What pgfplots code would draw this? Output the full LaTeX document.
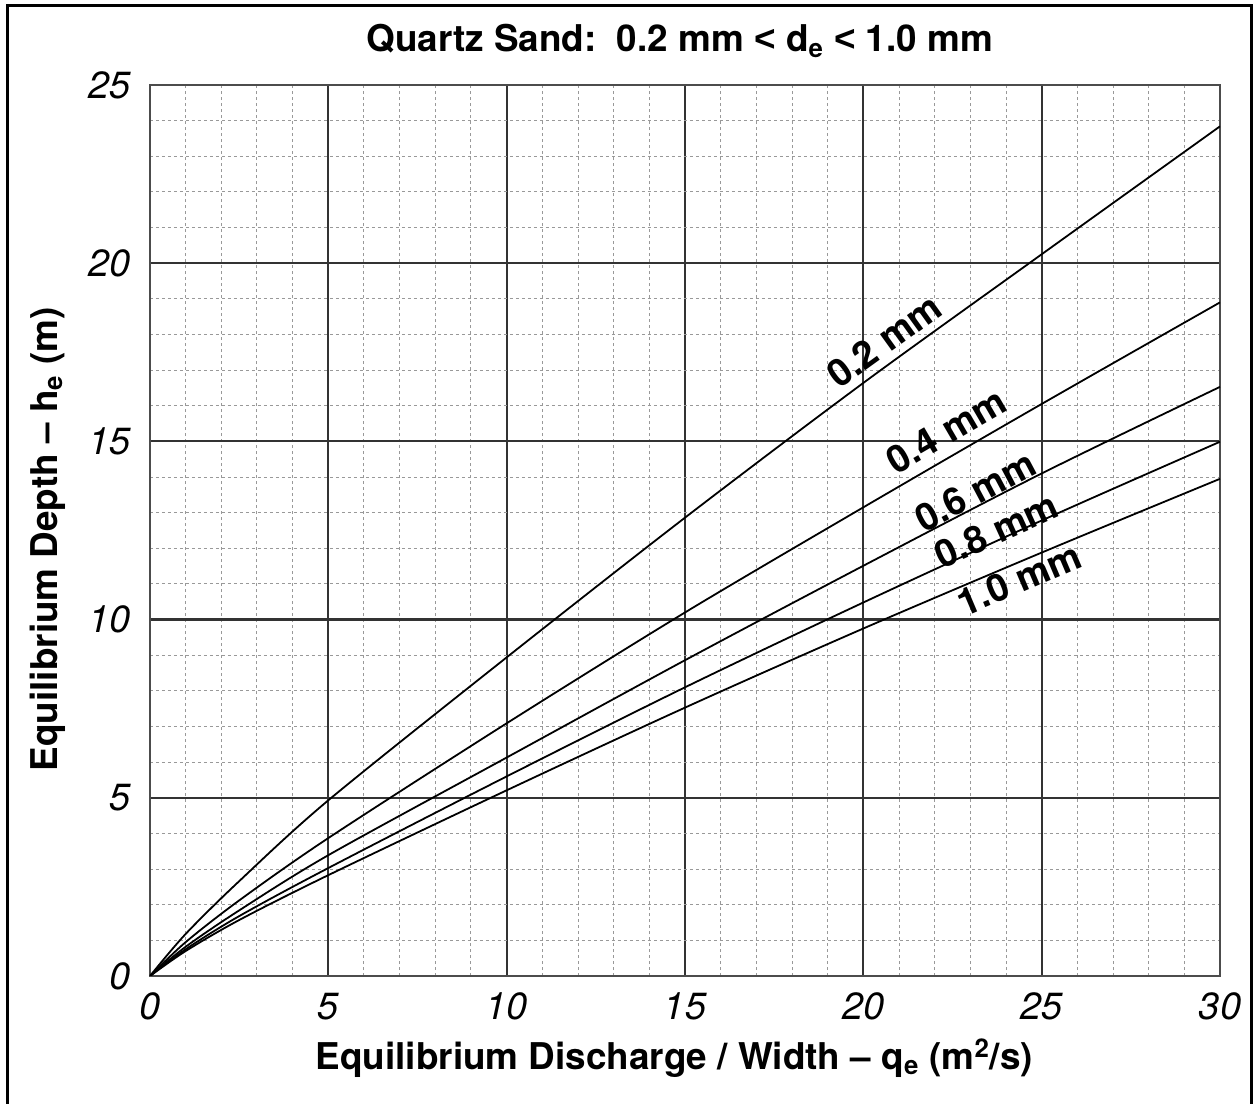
\documentclass[border=0pt]{standalone}
\usepackage{fontspec}
\setmainfont{TeX Gyre Heros}
\newfontfamily\lessfont{Liberation Sans}
\usepackage{pgfplots}
\pgfplotsset{compat=1.18}

\begin{document}
\begin{tikzpicture}
  \begin{axis}[
      scale only axis, width=535bp, height=445.5bp,
      xmin=0, xmax=30, ymin=0, ymax=25,
      xtick={0,5,...,30}, ytick={0,5,...,25},
      minor xtick={0,1,...,30}, minor ytick={0,1,...,25},
      grid=both,
      major grid style={line width=1.1bp, black!80},
      minor grid style={line width=0.5bp, black!40, dash pattern=on 1.5bp off 1.5bp},
      axis line style={line width=1.2bp, black!70},
      tick style={draw=none},
      /pgf/number format/assume math mode=true,
      tick label style={font=\fontsize{19}{22}\selectfont\itshape},
      xticklabel style={yshift=-5bp},
      yticklabel style={xshift=-6bp},
      title={\bfseries Quartz Sand:\ \ 0.2 mm {\lessfont\bfseries <} d\textsubscript{e} {\lessfont\bfseries <} 1.0 mm},
      title style={font=\fontsize{18.5}{22}\selectfont, at={(axis description cs:0.495,1)}, anchor=center, yshift=16bp},
      xlabel={\bfseries Equilibrium Discharge / Width – q\textsubscript{e} (m\textsuperscript{2}/s)},
      xlabel style={font=\fontsize{18.5}{22}\selectfont, at={(axis description cs:0.49,0)}, anchor=center, yshift=-41bp},
      ylabel={\bfseries Equilibrium Depth – h\textsubscript{e} (m)},
      ylabel style={font=\fontsize{18.5}{22}\selectfont, at={(axis description cs:0,0.49)}, anchor=center, yshift=51bp},
    ]
    % 0.2 mm
    \addplot[black, line width=0.9bp, smooth] coordinates {(0,0) (1,1.18) (2.5,2.66) (5,4.93) (10,8.94) (15,12.86) (20,16.64) (25,20.25) (30,23.84)};
    % 0.4 mm
    \addplot[black, line width=0.9bp, smooth] coordinates {(0,0) (1,0.95) (2.5,2.12) (5,3.87) (10,7.09) (15,10.2) (20,13.15) (25,16.05) (30,18.9)};
    % 0.6 mm
    \addplot[black, line width=0.9bp, smooth] coordinates {(0,0) (1,0.82) (2.5,1.84) (5,3.39) (10,6.13) (15,8.86) (20,11.51) (25,14.1) (30,16.53)};
    % 0.8 mm
    \addplot[black, line width=0.9bp, smooth] coordinates {(0,0) (1,0.75) (2.5,1.68) (5,3.03) (10,5.6) (15,8.1) (20,10.48) (25,12.78) (30,14.99)};
    % 1.0 mm
    \addplot[black, line width=0.9bp, smooth] coordinates {(0,0) (1,0.70) (2.5,1.57) (5,2.83) (10,5.21) (15,7.53) (20,9.75) (25,11.88) (30,13.95)};

    \begin{scope}[every node/.style={font=\bfseries\fontsize{19}{22}\selectfont, inner sep=0pt, yshift=1.5bp}]
      \node[rotate=35.8] at (axis cs:20.58,17.74) {0.2 mm};
      \node[rotate=30.2] at (axis cs:22.32,15.22) {0.4 mm};
      \node[rotate=28]   at (axis cs:23.14,13.52) {0.6 mm};
      \node[rotate=24.5] at (axis cs:23.73,12.42) {0.8 mm};
      \node[rotate=23]   at (axis cs:24.37,11.05) {1.0 mm};
    \end{scope}

    \coordinate (sw) at (rel axis cs:0,0);
    \coordinate (ne) at (rel axis cs:1,1);
  \end{axis}
  \coordinate (fsw) at ([xshift=-71bp,yshift=-90bp]sw);
  \coordinate (fne) at ([xshift=15.5bp,yshift=39.5bp]ne);
  \draw[line width=1.5bp] (fsw) -- (fsw |- fne) -- (fne) -- (fne |- fsw);
  \pgfresetboundingbox
  \path[use as bounding box] ([xshift=-75bp,yshift=-64bp]sw) rectangle ([xshift=16.5bp,yshift=42.5bp]ne);
\end{tikzpicture}
\end{document}
